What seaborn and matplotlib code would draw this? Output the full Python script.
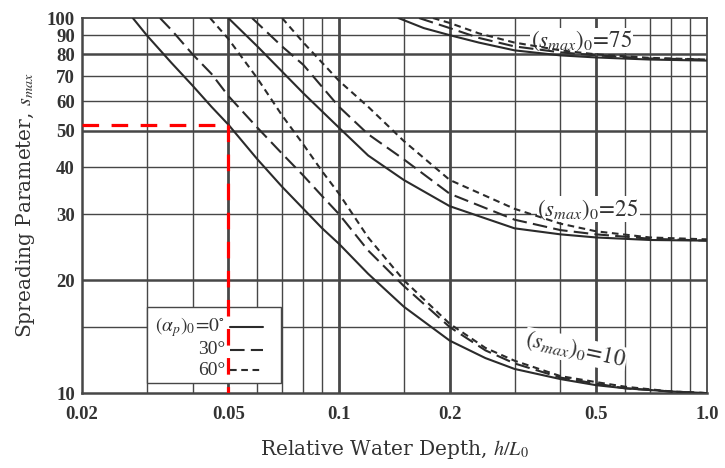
import numpy as np
import pandas as pd
import matplotlib
matplotlib.use("Agg")
import matplotlib.pyplot as plt
import seaborn as sns
from matplotlib.lines import Line2D
from matplotlib.patches import Rectangle

# ---------------- data ----------------
# (s_max)_0 = 10
s10_a0_h = [0.0275, 0.03, 0.035, 0.04, 0.045, 0.05, 0.06, 0.07, 0.08, 0.09, 0.1, 0.12, 0.15, 0.2, 0.25, 0.3, 0.4, 0.5, 0.6, 0.8, 1.0]
s10_a0_s = [100, 90, 76, 66, 58, 52, 42, 35.5, 31, 27.5, 25, 20.8, 17, 13.8, 12.4, 11.6, 10.9, 10.5, 10.3, 10.1, 10.0]
s10_a30_h = [0.0326, 0.035, 0.04, 0.045, 0.05, 0.06, 0.07, 0.08, 0.09, 0.1, 0.12, 0.15, 0.2, 0.25, 0.3, 0.4, 0.5, 0.6, 0.8, 1.0]
s10_a30_s = [100, 93, 80, 71, 62, 51, 43.5, 38, 33.5, 30, 24, 19.3, 15, 13, 12, 11, 10.6, 10.3, 10.1, 10.0]
s10_a60_h = [0.0446, 0.05, 0.06, 0.07, 0.08, 0.09, 0.1, 0.12, 0.15, 0.2, 0.25, 0.3, 0.4, 0.5, 0.6, 0.8, 1.0]
s10_a60_s = [100, 88, 69, 55, 46, 39, 34, 26, 20, 15.3, 13.2, 12.2, 11.1, 10.7, 10.4, 10.1, 10.0]

# (s_max)_0 = 25
s25_a0_h = [0.05, 0.06, 0.07, 0.08, 0.1, 0.12, 0.15, 0.2, 0.3, 0.4, 0.5, 0.7, 1.0]
s25_a0_s = [100, 84, 72, 63, 51, 43, 37, 31.5, 27.5, 26.5, 26, 25.6, 25.5]
s25_a30_h = [0.058, 0.07, 0.08, 0.1, 0.12, 0.15, 0.2, 0.3, 0.4, 0.5, 0.7, 1.0]
s25_a30_s = [100, 84, 75, 58, 49, 42, 34, 29, 27.2, 26.5, 25.8, 25.5]
s25_a60_h = [0.07, 0.08, 0.1, 0.12, 0.15, 0.2, 0.3, 0.4, 0.5, 0.7, 1.0]
s25_a60_s = [100, 86, 68, 58, 47, 37, 31, 28.3, 27, 26, 25.7]

# (s_max)_0 = 75
s75_a0_h = [0.145, 0.17, 0.2, 0.24, 0.3, 0.4, 0.5, 0.7, 1.0]
s75_a0_s = [100, 94, 90, 86, 82, 79.5, 78.5, 77.5, 77]
s75_a30_h = [0.165, 0.2, 0.24, 0.3, 0.4, 0.5, 0.7, 1.0]
s75_a30_s = [100, 94, 88.5, 84, 81, 79.5, 78, 77.5]
s75_a60_h = [0.18, 0.2, 0.24, 0.3, 0.4, 0.5, 0.7, 1.0]
s75_a60_s = [100, 97, 91, 86, 82, 80, 78.3, 77.5]

angles = ["0°", "30°", "60°"]
families = ["10", "25", "75"]

x_tick_vals = [0.02, 0.05, 0.1, 0.2, 0.5, 1.0]
x_tick_labels = ["0.02", "0.05", "0.1", "0.2", "0.5", "1.0"]
y_tick_vals = [10, 20, 30, 40, 50, 60, 70, 80, 90, 100]
y_tick_labels = ["10", "20", "30", "40", "50", "60", "70", "80", "90", "100"]
x_grid = [0.03, 0.04, 0.05, 0.06, 0.07, 0.08, 0.09, 0.1, 0.15, 0.2, 0.3, 0.4, 0.5, 0.6, 0.7, 0.8, 0.9]
x_grid_thick = [0.05, 0.1, 0.2, 0.5]
y_grid = [15, 20, 30, 40, 50, 60, 70, 80, 90]
y_grid_thick = [20, 50, 80]

red_h = 0.05
red_s = 52

# ---------------- build table ----------------
series = {
    ("10", "0°"): (s10_a0_h, s10_a0_s), ("10", "30°"): (s10_a30_h, s10_a30_s), ("10", "60°"): (s10_a60_h, s10_a60_s),
    ("25", "0°"): (s25_a0_h, s25_a0_s), ("25", "30°"): (s25_a30_h, s25_a30_s), ("25", "60°"): (s25_a60_h, s25_a60_s),
    ("75", "0°"): (s75_a0_h, s75_a0_s), ("75", "30°"): (s75_a30_h, s75_a30_s), ("75", "60°"): (s75_a60_h, s75_a60_s),
}
rows = []
for (fam, ang), (hh, ss) in series.items():
    for h, s in zip(hh, ss):
        rows.append({"h": h, "s": s, "family": fam + "_" + ang, "angle": ang})
df = pd.DataFrame(rows)

sns.set_theme(style="white")
plt.rcParams["font.family"] = ["Liberation Serif", "DejaVu Serif"]
plt.rcParams["mathtext.fontset"] = "stix"

ink = "#2b2b2b"
gridc = "#474747"

fig, ax = plt.subplots(figsize=(7.25, 4.68), dpi=100)
fig.subplots_adjust(left=0.113, right=0.975, bottom=0.160, top=0.9615)

dash_map = {"0°": "", "30°": (7, 3), "60°": (3.2, 2.2)}
sns.lineplot(data=df, x="h", y="s", style="angle", units="family", estimator=None,
             dashes=dash_map, color=ink, linewidth=1.5, legend=False, sort=False,
             ax=ax, zorder=3)

ax.set_xscale("log")
ax.set_yscale("log")
ax.set_xlim(0.02, 1.0)
ax.set_ylim(10, 100)
ax.set_xticks(x_tick_vals)
ax.set_xticklabels(x_tick_labels)
ax.set_xticks([], minor=True)
ax.set_yticks(y_tick_vals)
ax.set_yticklabels(y_tick_labels)
ax.set_yticks([], minor=True)
ax.tick_params(axis="both", length=0, labelsize=13.5, colors="#333333")
ax.tick_params(axis="x", pad=9)
ax.tick_params(axis="y", pad=5)
for lab in ax.get_xticklabels() + ax.get_yticklabels():
    lab.set_fontweight("bold")

for xv in x_grid:
    ax.axvline(xv, color=gridc, lw=2.0 if xv in x_grid_thick else 1.0, zorder=1)
for yv in y_grid:
    ax.axhline(yv, color=gridc, lw=1.8 if yv in y_grid_thick else 1.0, zorder=1)

for sp in ax.spines.values():
    sp.set_color(gridc)
    sp.set_linewidth(1.3)
ax.spines["left"].set_linewidth(1.8)
ax.spines["bottom"].set_linewidth(1.8)

ax.set_xlabel("Relative Water Depth, $h/L_0$", fontsize=14.5, color="#333333",
              family="DejaVu Serif", labelpad=11)
ax.set_ylabel("Spreading Parameter, $s_{max}$", fontsize=14.5, color="#333333",
              family="DejaVu Serif", labelpad=7)

# curve labels
lab_kw = dict(transform=ax.transAxes, fontsize=16.5, color="#333333", ha="center", va="center",
              zorder=2.5, bbox=dict(facecolor="white", edgecolor="none", pad=0.5))
ax.text(0.80, 0.94, r"$(s_{max})_0\!=\!75$", **lab_kw)
ax.text(0.81, 0.49, r"$(s_{max})_0\!=\!25$", **lab_kw)
ax.text(0.79, 0.115, r"$(s_{max})_0\!=\!10$", rotation=-12, **lab_kw)

# legend box
ax.add_patch(Rectangle((0.104, 0.027), 0.214, 0.202, transform=ax.transAxes,
                       facecolor="white", edgecolor=gridc, lw=1.0, zorder=4))
leg_kw = dict(transform=ax.transAxes, fontsize=14, color="#333333", ha="right", va="center", zorder=5)
ax.text(0.229, 0.176, r"$(\alpha_p)_0\!=\!0^{\circ}$", **leg_kw)
ax.text(0.229, 0.115, "30°", **leg_kw)
ax.text(0.229, 0.061, "60°", **leg_kw)
for yy, ang in zip([0.176, 0.115, 0.061], angles):
    ln = Line2D([0.237, 0.29], [yy, yy], transform=ax.transAxes, color=ink, lw=1.5, zorder=5)
    if dash_map[ang]:
        ln.set_dashes(dash_map[ang])
    ax.add_line(ln)

# red guide lines
ax.plot([0.02, red_h], [red_s, red_s], color="#ff0000", lw=2.3, dashes=(5.2, 3.9), zorder=6)
ax.plot([red_h, red_h], [red_s, 10], color="#ff0000", lw=2.3, dashes=(5.2, 3.9), zorder=6)

fig.savefig("out.png", dpi=100)
